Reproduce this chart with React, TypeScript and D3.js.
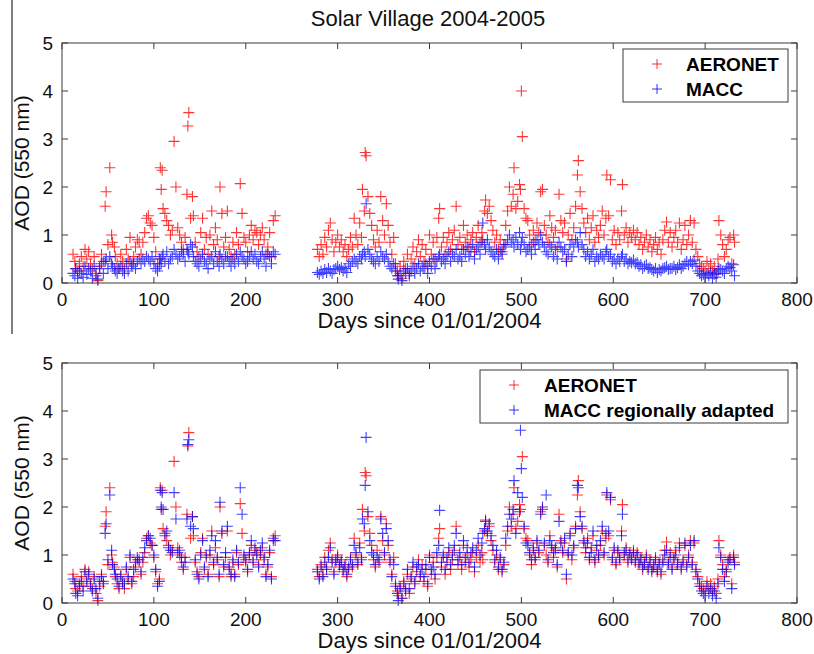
import * as d3 from "d3";
import React from "react";

// days since 01/01/2004 and AOD values
const days1 = [
  12, 14, 15, 17, 19, 21, 23, 25, 27, 29,
  31, 33, 35, 37, 39, 41, 43, 45, 47, 48,
  50, 52, 54, 55, 57, 58, 60, 62, 64, 66,
  68, 70, 72, 74, 76, 78, 80, 82, 84, 86,
  88, 90, 92, 94, 96, 98, 100, 102, 104, 106,
  107, 108, 109, 110, 112, 114, 116, 118, 120, 122,
  124, 126, 128, 130, 132, 134, 136, 137, 138, 140,
  142, 143, 145, 147, 149, 151, 153, 155, 157, 159,
  161, 163, 165, 167, 169, 171, 172, 174, 176, 178,
  180, 182, 184, 186, 188, 190, 192, 194, 196, 198,
  200, 202, 204, 206, 208, 210, 212, 214, 216, 218,
  220, 222, 224, 226, 228, 230, 232,
];
const aeronet1 = [
  0.6, 0.45, 0.3, 0.25, 0.4, 0.55, 0.35, 0.7, 0.5, 0.65,
  0.4, 0.3, 0.55, 0.2, 0.05, 0.35, 0.6, 0.45, 1.6, 1.9,
  0.8, 2.4, 1.0, 0.85, 0.75, 0.55, 0.4, 0.3, 0.6, 0.45,
  0.3, 0.7, 0.5, 0.95, 0.4, 0.55, 0.75, 0.9, 0.85, 0.6,
  0.85, 1.05, 1.35, 1.4, 1.25, 1.2, 0.95, 0.65, 0.4, 0.5,
  2.4, 1.95, 2.35, 1.55, 1.45, 1.3, 1.2, 1.0, 1.1, 2.95,
  2.0, 1.15, 1.0, 0.85, 0.7, 0.95, 1.85, 3.27, 3.55, 1.35,
  1.8, 1.4, 0.85, 0.65, 0.55, 1.05, 1.35, 0.7, 0.95, 0.6,
  1.0, 1.5, 0.8, 1.15, 0.9, 0.55, 2.0, 1.45, 0.75, 0.95,
  1.5, 0.7, 0.55, 0.85, 0.6, 1.05, 0.8, 2.07, 1.45, 0.95,
  0.85, 0.65, 1.0, 1.2, 0.9, 1.1, 1.05, 0.8, 1.0, 1.15,
  0.9, 0.6, 0.75, 1.05, 0.55, 1.3, 1.4,
];
const macc1 = [
  0.2, 0.15, 0.3, 0.1, 0.25, 0.2, 0.12, 0.35, 0.18, 0.3,
  0.25, 0.1, 0.35, 0.15, 0.08, 0.3, 0.4, 0.2, 0.45, 0.5,
  0.3, 0.55, 0.4, 0.35, 0.3, 0.25, 0.2, 0.3, 0.35, 0.25,
  0.2, 0.4, 0.25, 0.45, 0.35, 0.4, 0.3, 0.45, 0.5, 0.4,
  0.5, 0.45, 0.55, 0.5, 0.45, 0.55, 0.4, 0.3, 0.25, 0.35,
  0.5, 0.4, 0.55, 0.6, 0.45, 0.65, 0.4, 0.5, 0.55, 0.7,
  0.6, 0.5, 0.55, 0.65, 0.6, 0.45, 0.7, 0.65, 0.6, 0.8,
  0.75, 0.55, 0.45, 0.4, 0.35, 0.5, 0.6, 0.45, 0.4, 0.3,
  0.5, 0.55, 0.4, 0.65, 0.45, 0.35, 0.6, 0.5, 0.4, 0.55,
  0.55, 0.45, 0.35, 0.5, 0.4, 0.6, 0.45, 0.65, 0.55, 0.5,
  0.4, 0.45, 0.55, 0.65, 0.5, 0.6, 0.45, 0.4, 0.55, 0.65,
  0.5, 0.35, 0.6, 0.55, 0.4, 0.65, 0.6,
];
const adapted1 = [
  0.5, 0.4, 0.2, 0.15, 0.35, 0.45, 0.25, 0.65, 0.45, 0.6,
  0.35, 0.25, 0.5, 0.3, 0.1, 0.45, 0.55, 0.4, 1.45, 1.65,
  0.9, 2.25, 1.1, 0.8, 0.7, 0.6, 0.5, 0.35, 0.55, 0.4,
  0.4, 0.75, 0.55, 1.0, 0.45, 0.7, 0.85, 0.95, 0.9, 0.65,
  0.95, 1.15, 1.3, 1.4, 1.35, 1.2, 1.0, 0.7, 0.35, 0.45,
  2.35, 2.0, 2.3, 1.95, 1.4, 1.5, 1.15, 1.1, 1.05, 2.3,
  1.75, 1.05, 1.1, 0.95, 0.75, 0.85, 1.75, 3.3, 3.4, 1.6,
  1.8, 1.55, 0.9, 0.6, 0.5, 1.0, 1.3, 0.75, 1.0, 0.55,
  1.1, 1.4, 0.85, 1.3, 0.95, 0.6, 2.1, 1.5, 0.8, 1.05,
  1.6, 0.75, 0.6, 0.9, 0.55, 1.1, 0.85, 2.4, 1.85, 1.0,
  0.9, 0.7, 1.05, 1.3, 0.85, 1.15, 1.0, 0.75, 1.1, 1.25,
  0.95, 0.55, 0.8, 1.1, 0.5, 1.35, 1.3,
];

const days2 = [
  278, 280, 282, 284, 286, 288, 290, 292, 294, 296,
  298, 300, 302, 304, 306, 308, 310, 312, 314, 316,
  318, 320, 322, 324, 326, 327, 329, 330, 331, 333,
  335, 337, 339, 341, 343, 345, 347, 349, 351, 353,
  355, 357, 359, 361, 363, 365, 366, 368, 370, 372,
  374, 376, 378, 380, 382, 384, 386, 388, 390, 392,
  394, 396, 398, 400, 402, 404, 406, 408, 410, 411,
  413, 415, 417, 419, 421, 423, 425, 427, 429, 431,
  433, 435, 437, 439, 441, 443, 445, 447, 449, 451,
  453, 455, 457, 458, 460, 461, 463, 465, 467, 469,
  471, 473, 475, 477, 479, 481, 483, 485, 487, 489,
  491, 492, 494, 496, 498, 499, 500, 501, 503, 505,
  507, 509, 511, 513, 515, 517, 519, 521, 523, 525,
  527, 529, 531, 533, 535, 537, 539, 541, 543, 545,
  547, 549, 551, 553, 555, 557, 559, 561, 562, 564,
  566, 568, 570, 572, 574, 576, 578, 580, 582, 584,
  586, 588, 590, 592, 593, 595, 597, 599, 601, 603,
  605, 607, 609, 610, 612, 614, 616, 618, 620, 622,
  624, 626, 628, 630, 632, 634, 636, 638, 640, 642,
  644, 646, 648, 650, 652, 654, 656, 658, 660, 662,
  664, 666, 668, 670, 672, 674, 676, 678, 680, 682,
  684, 686, 688, 690, 692, 694, 696, 698, 700, 702,
  704, 706, 708, 710, 712, 714, 715, 717, 719, 721,
  723, 725, 727, 729, 731, 732,
];
const aeronet2 = [
  0.7, 0.55, 0.8, 0.6, 0.95, 0.75, 1.1, 1.25, 0.9, 0.65,
  0.85, 1.0, 0.75, 0.9, 0.65, 0.8, 0.55, 0.7, 0.95, 0.75,
  1.35, 1.0, 0.8, 1.25, 0.95, 1.95, 1.5, 2.72, 2.65, 1.8,
  1.45, 1.2, 0.9, 0.75, 1.1, 0.85, 1.8, 1.3, 1.0, 1.65,
  1.2, 0.85, 0.6, 0.95, 0.4, 0.25, 0.15, 0.35, 0.1, 0.45,
  0.3, 0.6, 0.2, 0.5, 0.75, 0.4, 0.65, 0.9, 0.55, 0.8,
  0.45, 0.7, 0.35, 1.0, 0.6, 0.85, 0.5, 0.95, 1.35, 1.55,
  0.75, 0.95, 0.6, 0.85, 1.05, 0.7, 0.9, 1.1, 1.6, 0.8,
  0.95, 0.7, 1.2, 0.85, 1.0, 0.75, 0.9, 1.05, 0.65, 0.95,
  1.2, 0.85, 1.05, 0.9, 1.5, 1.73, 1.45, 1.6, 1.3, 1.1,
  0.85, 1.0, 0.7, 0.9, 0.65, 0.8, 1.2, 1.5, 2.0, 1.6,
  1.85, 2.4, 1.55, 1.7, 2.05, 1.95, 4.0, 3.05, 1.55, 1.35,
  1.3, 1.0, 0.8, 1.1, 0.9, 1.25, 1.05, 1.9, 1.95, 1.2,
  1.0, 0.85, 1.4, 1.15, 0.95, 1.1, 0.75, 1.85, 1.3, 1.05,
  1.25, 0.5, 1.0, 1.45, 0.9, 1.15, 1.6, 2.25, 2.55, 1.9,
  1.55, 1.25, 1.05, 1.35, 0.9, 1.15, 1.4, 0.85, 1.1, 0.95,
  1.2, 1.5, 1.0, 1.35, 2.25, 1.4, 2.15, 0.9, 1.1, 0.8,
  1.05, 0.9, 1.5, 2.05, 1.0, 1.15, 0.85, 1.05, 0.95, 1.1,
  0.9, 1.05, 0.8, 0.95, 0.7, 0.85, 1.0, 0.75, 0.9, 0.65,
  0.8, 0.95, 0.7, 0.85, 0.6, 0.9, 1.1, 1.27, 0.85, 1.05,
  0.75, 0.95, 1.1, 0.85, 1.25, 0.7, 0.9, 1.2, 0.8, 1.0,
  1.3, 0.85, 1.25, 0.7, 0.55, 0.4, 0.35, 0.3, 0.25, 0.45,
  0.3, 0.4, 0.25, 0.35, 0.2, 0.5, 1.3, 1.0, 0.8, 0.55,
  0.7, 0.9, 0.95, 0.4, 1.0, 0.85,
];
const macc2 = [
  0.22, 0.18, 0.25, 0.2, 0.28, 0.22, 0.3, 0.25, 0.2, 0.28,
  0.3, 0.35, 0.28, 0.32, 0.25, 0.3, 0.22, 0.4, 0.35, 0.45,
  0.5, 0.45, 0.4, 0.55, 0.5, 0.6, 0.65, 0.55, 1.65, 0.7,
  0.6, 0.5, 0.45, 0.4, 0.55, 0.45, 0.65, 0.55, 0.5, 0.6,
  0.45, 0.35, 0.3, 0.4, 0.25, 0.15, 0.08, 0.2, 0.05, 0.25,
  0.2, 0.3, 0.15, 0.25, 0.35, 0.2, 0.3, 0.4, 0.25, 0.35,
  0.3, 0.4, 0.2, 0.45, 0.35, 0.5, 0.3, 0.45, 0.55, 0.6,
  0.45, 0.5, 0.4, 0.55, 0.65, 0.45, 0.6, 0.55, 0.7, 0.5,
  0.55, 0.45, 0.7, 0.6, 0.75, 0.55, 0.65, 0.8, 0.5, 0.7,
  0.75, 0.6, 0.85, 1.25, 0.8, 0.7, 0.9, 0.75, 0.65, 0.6,
  0.55, 0.7, 0.5, 0.65, 0.6, 0.75, 0.8, 0.9, 1.0, 0.85,
  0.9, 0.75, 0.95, 0.8, 1.05, 0.7, 0.85, 0.95, 0.8, 0.65,
  0.7, 0.75, 0.6, 0.85, 0.7, 0.9, 0.8, 1.0, 0.85, 0.75,
  0.65, 0.6, 0.8, 0.75, 0.55, 0.7, 0.5, 0.85, 0.75, 0.65,
  0.7, 0.45, 0.6, 0.8, 0.55, 0.75, 0.9, 0.85, 0.75, 1.05,
  0.8, 0.7, 0.55, 0.65, 0.5, 0.6, 0.7, 0.45, 0.55, 0.5,
  0.6, 0.55, 0.5, 0.65, 0.7, 0.55, 0.6, 0.45, 0.5, 0.4,
  0.5, 0.45, 0.55, 0.6, 0.45, 0.5, 0.4, 0.45, 0.42, 0.48,
  0.4, 0.42, 0.35, 0.38, 0.3, 0.35, 0.38, 0.3, 0.32, 0.28,
  0.25, 0.3, 0.22, 0.28, 0.25, 0.3, 0.32, 0.35, 0.28, 0.3,
  0.3, 0.35, 0.28, 0.32, 0.38, 0.3, 0.35, 0.4, 0.45, 0.38,
  0.45, 0.4, 0.48, 0.35, 0.25, 0.2, 0.15, 0.18, 0.12, 0.2,
  0.15, 0.22, 0.1, 0.18, 0.12, 0.25, 0.3, 0.28, 0.25, 0.2,
  0.3, 0.35, 0.32, 0.25, 0.38, 0.15,
];
const adapted2 = [
  0.65, 0.5, 0.75, 0.55, 0.85, 0.7, 0.95, 1.15, 0.85, 0.6,
  0.9, 0.95, 0.8, 0.85, 0.7, 0.75, 0.6, 0.75, 0.9, 0.8,
  1.2, 1.05, 0.85, 1.15, 0.9, 1.75, 1.65, 2.45, 3.45, 1.9,
  1.3, 1.05, 1.0, 0.8, 0.95, 0.9, 1.75, 1.45, 1.05, 1.55,
  1.3, 0.9, 0.55, 0.8, 0.35, 0.2, 0.05, 0.3, 0.1, 0.4,
  0.25, 0.7, 0.3, 0.55, 0.85, 0.45, 0.75, 0.8, 0.6, 0.7,
  0.55, 0.8, 0.4, 0.95, 0.7, 0.75, 0.6, 1.05, 1.2, 1.93,
  0.85, 1.0, 0.7, 0.95, 1.15, 0.8, 1.0, 1.2, 1.45, 0.9,
  1.05, 0.8, 1.3, 0.95, 1.15, 0.85, 1.05, 1.15, 0.75, 1.1,
  1.35, 1.0, 1.25, 1.45, 1.55, 1.7, 1.5, 1.65, 1.4, 1.2,
  0.9, 1.1, 0.75, 0.95, 0.7, 0.85, 1.35, 1.6, 1.85, 1.75,
  1.95, 2.55, 1.45, 2.3, 1.9, 3.6, 2.8, 2.2, 1.6, 1.25,
  1.2, 1.05, 0.9, 1.15, 0.95, 1.3, 1.1, 1.85, 2.0, 1.25,
  2.25, 0.9, 1.3, 1.2, 1.05, 1.15, 0.8, 1.7, 1.25, 1.1,
  1.35, 0.6, 1.05, 1.4, 1.0, 1.2, 1.55, 2.45, 2.4, 1.8,
  1.6, 1.3, 1.15, 1.25, 0.95, 1.05, 1.5, 0.9, 1.2, 1.0,
  1.3, 1.6, 1.05, 1.45, 2.3, 1.5, 2.2, 0.95, 1.15, 0.85,
  1.1, 0.95, 1.4, 1.85, 1.05, 1.1, 0.9, 1.0, 0.9, 1.05,
  0.85, 1.0, 0.85, 0.9, 0.75, 0.8, 0.95, 0.7, 0.85, 0.7,
  0.75, 0.9, 0.65, 0.8, 0.65, 0.85, 1.0, 1.1, 0.8, 0.95,
  0.7, 0.9, 1.0, 0.8, 1.15, 0.75, 0.85, 1.25, 0.75, 0.95,
  1.2, 0.8, 1.3, 0.65, 0.5, 0.35, 0.25, 0.2, 0.15, 0.35,
  0.2, 0.3, 0.15, 0.25, 0.1, 0.4, 1.15, 0.95, 0.7, 0.45,
  0.65, 0.85, 0.9, 0.3, 0.95, 0.8,
];

const days = days1.concat(days2);
const aeronet = aeronet1.concat(aeronet2);
const macc = macc1.concat(macc2);
const maccAdapted = adapted1.concat(adapted2);

const xTicks = [0, 100, 200, 300, 400, 500, 600, 700, 800];
const yTicks = [0, 1, 2, 3, 4, 5];

const RED = "#ff0000";
const BLUE = "#0000ff";
const AXIS = "#3a3a3a";
const FONT = "'Liberation Sans', Arial, Helvetica, sans-serif";

const width = 814;
const height = 654;
const left = 62;
const right = 797;

const x = d3.scaleLinear([0, 800], [left, right]);

const plusPath = (xs: number[], ys: number[], sx: (v: number) => number, sy: (v: number) => number, r: number) => {
  const p = d3.path();
  xs.forEach((d, i) => {
    const cx = sx(d);
    const cy = sy(ys[i]);
    p.moveTo(cx - r, cy);
    p.lineTo(cx + r, cy);
    p.moveTo(cx, cy - r);
    p.lineTo(cx, cy + r);
  });
  return p.toString();
};

const Panel = ({
  top,
  bottom,
  blue,
  legend,
  legendBox,
}: {
  top: number;
  bottom: number;
  blue: number[];
  legend: string[];
  legendBox: { x0: number; x1: number; y0: number; y1: number; mx: number; tx: number };
}) => {
  const y = d3.scaleLinear([0, 5], [bottom, top]);
  const tk = 6;
  const rowY = [legendBox.y0 + 15, legendBox.y0 + 40];
  return (
    <g>
      <rect x={left} y={top} width={right - left} height={bottom - top} fill="#fff" />
      <path d={plusPath(days, aeronet, x, y, 5.5)} stroke={RED} strokeWidth={1.1} strokeOpacity={0.8} fill="none" />
      <path d={plusPath(days, blue, x, y, 5.5)} stroke={BLUE} strokeWidth={1.1} strokeOpacity={0.75} fill="none" />
      <rect x={left} y={top} width={right - left} height={bottom - top} fill="none" stroke={AXIS} strokeWidth={1} />
      {xTicks.map((t) => (
        <g key={"x" + t}>
          <line x1={x(t)} x2={x(t)} y1={bottom} y2={bottom - tk} stroke={AXIS} />
          <line x1={x(t)} x2={x(t)} y1={top} y2={top + tk} stroke={AXIS} />
          <text x={x(t)} y={bottom + 23} textAnchor="middle" fontSize={19} fontFamily={FONT} fill="#111">
            {t}
          </text>
        </g>
      ))}
      {yTicks.map((t) => (
        <g key={"y" + t}>
          <line x1={left} x2={left + tk} y1={y(t)} y2={y(t)} stroke={AXIS} />
          <line x1={right} x2={right - tk} y1={y(t)} y2={y(t)} stroke={AXIS} />
          <text x={left - 9} y={y(t) + 7} textAnchor="end" fontSize={19} fontFamily={FONT} fill="#111">
            {t}
          </text>
        </g>
      ))}
      <text x={(left + right) / 2} y={bottom + 45} textAnchor="middle" fontSize={22} fontFamily={FONT} fill="#111">
        Days since 01/01/2004
      </text>
      <text
        transform={`translate(29,${(top + bottom) / 2}) rotate(-90)`}
        textAnchor="middle"
        fontSize={21}
        fontFamily={FONT}
        fill="#111"
      >
        AOD (550 nm)
      </text>
      <rect
        x={legendBox.x0}
        y={legendBox.y0}
        width={legendBox.x1 - legendBox.x0}
        height={legendBox.y1 - legendBox.y0}
        fill="#fff"
        stroke={AXIS}
        strokeWidth={1}
      />
      {[RED, BLUE].map((c, i) => (
        <g key={c}>
          <path
            d={`M${legendBox.mx - 5},${rowY[i]}h10M${legendBox.mx},${rowY[i] - 5}v10`}
            stroke={c}
            strokeWidth={1}
            strokeOpacity={0.8}
          />
          <text x={legendBox.tx} y={rowY[i] + 7} fontSize={19} fontWeight="bold" fontFamily={FONT} fill="#000">
            {legend[i]}
          </text>
        </g>
      ))}
    </g>
  );
};

export default function App() {
  return (
    <svg
      width={width}
      height={height}
      style={{ position: "absolute", left: 0, top: 0, background: "#fff" }}
    >
      <rect width={width} height={height} fill="#fff" />
      <line x1={12} x2={12} y1={0} y2={334} stroke="#555" strokeWidth={1.5} />
      <text x={428} y={26} textAnchor="middle" fontSize={22} fontFamily={FONT} fill="#111">
        Solar Village 2004-2005
      </text>
      <Panel
        top={43}
        bottom={283}
        blue={macc}
        legend={["AERONET", "MACC"]}
        legendBox={{ x0: 623, x1: 788, y0: 49, y1: 102, mx: 657, tx: 686 }}
      />
      <Panel
        top={363}
        bottom={603}
        blue={maccAdapted}
        legend={["AERONET", "MACC regionally adapted"]}
        legendBox={{ x0: 480, x1: 788, y0: 370, y1: 423, mx: 514, tx: 544 }}
      />
    </svg>
  );
}
